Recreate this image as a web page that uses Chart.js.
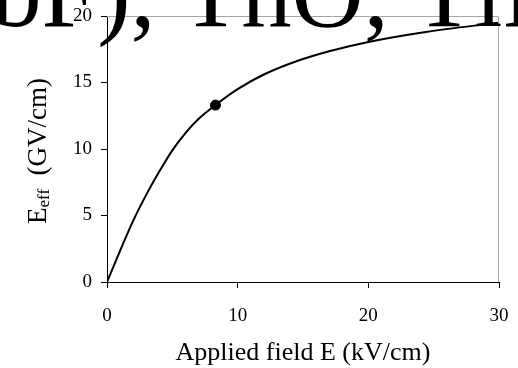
<!DOCTYPE html>
<html>
<head>
<meta charset="utf-8">
<script src="https://cdn.jsdelivr.net/npm/chart.js@4/dist/chart.umd.min.js"></script>
<style>
  html, body { margin: 0; padding: 0; background: #fff; }
  #wrap { position: relative; width: 518px; height: 368px; overflow: hidden; }
  canvas { display: block; }
</style>
</head>
<body>
<div id="wrap"><canvas id="effChart" width="518" height="368"></canvas></div>
<script>
// Applied field (kV/cm) vs effective field (GV/cm)
const fieldE = [0, 1, 2, 3, 4, 5, 6, 7, 8.3, 10, 12, 14.5, 17, 20, 24.4, 30];
const effField = [0, 2.35, 4.6, 6.55, 8.3, 9.9, 11.2, 12.25, 13.3, 14.5, 15.6, 16.6, 17.35, 18.05, 18.8, 19.5];

// the marked operating point
const markE = [8.3];
const markEff = [13.3];

const xTicks = [0, 10, 20, 30];
const yTicks = [0, 5, 10, 15, 20];

const xTitle = 'Applied field E (kV/cm)';
const yTitleMain = 'E';
const yTitleSub = 'eff';
const yTitleRest = '  (GV/cm)';
const bannerText = '(YbF), ThO, TlF';

const SERIF = '"Liberation Serif", "Times New Roman", serif';

const framePlugin = {
  id: 'frame',
  afterDraw(chart) {
    const { ctx, chartArea: a } = chart;
    ctx.save();

    // grey top + right frame
    ctx.strokeStyle = '#a6a6a6';
    ctx.lineWidth = 1;
    ctx.beginPath();
    ctx.moveTo(a.left, a.top + 0.5);
    ctx.lineTo(a.right - 0.5, a.top + 0.5);
    ctx.lineTo(a.right - 0.5, a.bottom);
    ctx.stroke();

    // x title
    ctx.fillStyle = '#000';
    ctx.font = '26px ' + SERIF;
    ctx.textAlign = 'center';
    ctx.textBaseline = 'alphabetic';
    ctx.fillText(xTitle, (a.left + a.right) / 2, 360);

    // y title, rotated with subscript
    ctx.translate(46, 224);
    ctx.rotate(-Math.PI / 2);
    ctx.textAlign = 'left';
    ctx.font = '27px ' + SERIF;
    ctx.fillText(yTitleMain, 0, 0);
    let w = ctx.measureText(yTitleMain).width;
    ctx.font = '17px ' + SERIF;
    ctx.fillText(yTitleSub, w, 3);
    w += ctx.measureText(yTitleSub).width;
    ctx.font = '27px ' + SERIF;
    ctx.fillText(yTitleRest, w, 0);
    ctx.restore();

    // big clipped heading text bleeding in from above
    ctx.save();
    ctx.fillStyle = '#000';
    ctx.font = '100px ' + SERIF;
    ctx.textAlign = 'left';
    ctx.textBaseline = 'alphabetic';
    ctx.fillText(bannerText, -114, 26);
    ctx.restore();
  }
};

const tickFont = { family: SERIF, size: 19 };

new Chart(document.getElementById('effChart'), {
  type: 'scatter',
  data: {
    datasets: [
      {
        type: 'line',
        data: fieldE.map((x, i) => ({ x, y: effField[i] })),
        borderColor: '#000',
        borderWidth: 2,
        pointRadius: 0,
        fill: false,
        cubicInterpolationMode: 'monotone',
        order: 2
      },
      {
        data: markE.map((x, i) => ({ x, y: markEff[i] })),
        backgroundColor: '#000',
        borderColor: '#000',
        pointRadius: 5,
        order: 1
      }
    ]
  },
  options: {
    responsive: false,
    animation: false,
    layout: { padding: { top: 16, right: 19, left: 0, bottom: 0 } },
    plugins: { legend: { display: false }, tooltip: { enabled: false } },
    scales: {
      x: {
        type: 'linear',
        min: 0,
        max: 30,
        afterBuildTicks: s => { s.ticks = xTicks.map(v => ({ value: v })); },
        afterFit: s => { s.height = 86; s.paddingLeft = 0; s.paddingRight = 0; },
        ticks: { color: '#000', font: tickFont, padding: 17, maxRotation: 0 },
        grid: { drawOnChartArea: false, color: '#000', tickLength: 6, tickColor: '#000' },
        border: { color: '#000', width: 1 }
      },
      y: {
        min: 0,
        max: 20,
        afterBuildTicks: s => { s.ticks = yTicks.map(v => ({ value: v })); },
        afterFit: s => { s.width = 107; s.paddingTop = 0; s.paddingBottom = 0; },
        ticks: { color: '#000', font: tickFont, padding: 9 },
        grid: { drawOnChartArea: false, color: '#000', tickLength: 6, tickColor: '#000' },
        border: { color: '#000', width: 1 }
      }
    }
  },
  plugins: [framePlugin]
});
</script>
</body>
</html>
